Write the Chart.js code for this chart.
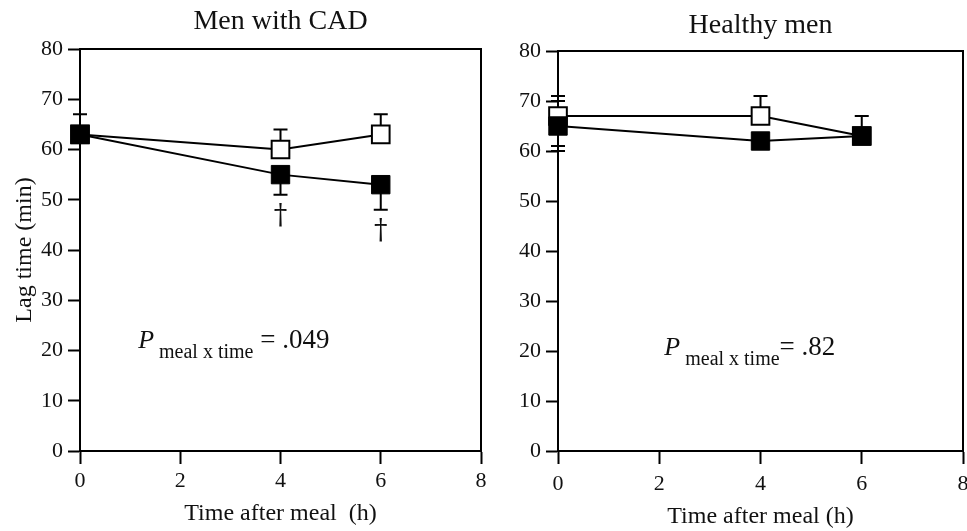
<!DOCTYPE html>
<html>
<head>
<meta charset="utf-8">
<script src="https://cdn.jsdelivr.net/npm/chart.js@4.4.1/dist/chart.umd.min.js"></script>
<style>
html, body { margin: 0; padding: 0; background: #fff; overflow: hidden; }
#wrap { position: relative; width: 967px; height: 531px; overflow: hidden; }
canvas { position: absolute; top: 0; }
#cad { left: 0; }
#healthy { left: 490px; }
</style>
</head>
<body>
<div id="wrap">
<canvas id="healthy" width="490" height="531"></canvas>
<canvas id="cad" width="500" height="531"></canvas>
</div>
<script>
// time points (h) and axis ticks
var timePoints = [0, 4, 6];
var xTicks = [0, 2, 4, 6, 8];
var yTicks = [0, 10, 20, 30, 40, 50, 60, 70, 80];

// Men with CAD - lag time (min)
var cadOpen = [63, 60, 63];
var cadOpenErrUp = [4, 4, 4];
var cadOpenErrDown = [0, 0, 0];
var cadFilled = [63, 55, 53];
var cadFilledErrUp = [0, 0, 0];
var cadFilledErrDown = [0, 4, 5];
var cadDaggers = [false, true, true];

// Healthy men - lag time (min)
var healthyOpen = [67, 67, 63];
var healthyOpenErrUp = [4, 4, 4];
var healthyOpenErrDown = [6, 0, 0];
var healthyFilled = [65, 62, 63];
var healthyFilledErrUp = [5, 0, 0];
var healthyFilledErrDown = [5, 0, 0];
var healthyDaggers = [false, false, false];

var panelTitles = ['Men with CAD', 'Healthy men'];
var xTitles = ['Time after meal  (h)', 'Time after meal (h)'];
var yTitle = 'Lag time (min)';
var pLabels = [' = .049', '= .82'];

var SERIF = '"Liberation Serif", "Times New Roman", serif';
Chart.defaults.font.family = SERIF;
Chart.defaults.color = '#111';

var toPoints = function(vals) {
	return timePoints.map(function(t, i) { return { x: t, y: vals[i] }; });
};

var extras = {
	id: 'extras',
	beforeDatasetsDraw: function(chart) {
		var ctx = chart.ctx, xs = chart.scales.x, ys = chart.scales.y;
		ctx.save();
		ctx.strokeStyle = '#000';
		ctx.lineWidth = 2;
		chart.data.datasets.forEach(function(ds) {
			ds.data.forEach(function(p, i) {
				var px = xs.getPixelForValue(p.x);
				var py = ys.getPixelForValue(p.y);
				[[ds.errUp[i], 1], [ds.errDown[i], -1]].forEach(function(e) {
					if (!e[0]) return;
					var pe = ys.getPixelForValue(p.y + e[1] * e[0]);
					ctx.beginPath();
					ctx.moveTo(px, py);
					ctx.lineTo(px, pe);
					ctx.moveTo(px - 7, pe);
					ctx.lineTo(px + 7, pe);
					ctx.stroke();
				});
			});
		});
		ctx.restore();
	},
	afterDraw: function(chart) {
		var ctx = chart.ctx, a = chart.chartArea, xs = chart.scales.x, ys = chart.scales.y;
		var opts = chart.options.plugins.extras;
		ctx.save();
		// box: top and right edges
		ctx.strokeStyle = '#000';
		ctx.lineWidth = 2;
		ctx.beginPath();
		ctx.moveTo(a.left - 1, a.top);
		ctx.lineTo(a.right, a.top);
		ctx.lineTo(a.right, a.bottom + 1);
		ctx.stroke();

		// panel title, centred on the plot area
		ctx.fillStyle = '#111';
		ctx.font = '28px ' + SERIF;
		ctx.textAlign = 'center';
		ctx.textBaseline = 'alphabetic';
		ctx.fillText(opts.title, (a.left + a.right) / 2, opts.titleBase);

		// daggers under the filled series
		var filled = chart.data.datasets[1];
		ctx.font = '27px "DejaVu Serif", serif';
		ctx.textBaseline = 'middle';
		opts.daggers.forEach(function(d, i) {
			if (!d) return;
			var p = filled.data[i];
			var py = ys.getPixelForValue(p.y - filled.errDown[i]);
			ctx.fillText('\u2020', xs.getPixelForValue(p.x), py + 22);
		});

		// P annotation
		var x = xs.getPixelForValue(opts.pAt[0]);
		var y = ys.getPixelForValue(opts.pAt[1]);
		ctx.textAlign = 'left';
		ctx.textBaseline = 'alphabetic';
		ctx.font = 'italic 26px ' + SERIF;
		ctx.fillText('P', x, y);
		x += ctx.measureText('P').width + 5;
		ctx.font = '20px ' + SERIF;
		ctx.fillText('meal x time', x, y + 10);
		x += ctx.measureText('meal x time').width;
		ctx.font = '27px ' + SERIF;
		ctx.fillText(opts.pText, x, y);
		ctx.restore();
	}
};

var makeChart = function(id, k, open, openUp, openDown, filled, filledUp, filledDown, daggers, cfg) {
	var config = {
		type: 'line',
		data: {
			datasets: [ {
				label: 'Open symbols',
				data: toPoints(open),
				errUp: openUp,
				errDown: openDown,
				borderColor: '#000',
				borderWidth: 2,
				pointStyle: 'rect',
				pointRadius: 12.5,
				pointBorderWidth: 2,
				pointBackgroundColor: '#fff',
				pointBorderColor: '#000',
				tension: 0,
				clip: false,
				order: 1
			}, {
				label: 'Filled symbols',
				data: toPoints(filled),
				errUp: filledUp,
				errDown: filledDown,
				borderColor: '#000',
				borderWidth: 2,
				pointStyle: 'rect',
				pointRadius: 13,
				pointBorderWidth: 1,
				pointBackgroundColor: '#000',
				pointBorderColor: '#000',
				tension: 0,
				clip: false,
				order: 0
			} ]
		},
		options: {
			responsive: false,
			animation: false,
			events: [],
			layout: { padding: { left: 0, right: cfg.padRight, top: cfg.padTop, bottom: 0 } },
			plugins: {
				legend: { display: false },
				tooltip: { enabled: false },
				title: { display: false },
				extras: { title: panelTitles[k], titleBase: cfg.titleBase, daggers: daggers, pAt: cfg.pAt, pText: pLabels[k] }
			},
			scales: {
				x: {
					type: 'linear',
					min: 0,
					max: 8,
					afterBuildTicks: function(s) { s.ticks = xTicks.map(function(v) { return { value: v }; }); },
					afterFit: function(s) { s.height = 80; },
					ticks: { autoSkip: false, maxRotation: 0, padding: cfg.xTickPad, color: '#111', font: { size: 22 } },
					grid: { drawOnChartArea: false, tickLength: 13, tickWidth: 2, tickColor: '#000' },
					border: { display: true, color: '#000', width: 2 },
					title: { display: true, text: xTitles[k], color: '#111', font: { size: 24 }, padding: { top: 0, bottom: cfg.xTitlePad } }
				},
				y: {
					type: 'linear',
					min: 0,
					max: 80,
					afterBuildTicks: function(s) { s.ticks = yTicks.map(function(v) { return { value: v }; }); },
					afterFit: function(s) { s.width = cfg.yWidth; },
					ticks: { padding: 5, color: '#111', font: { size: 22 } },
					grid: { drawOnChartArea: false, tickLength: 12, tickWidth: 2, tickColor: '#000' },
					border: { display: true, color: '#000', width: 2 },
					title: { display: cfg.showYTitle, text: yTitle, color: '#111', font: { size: 24 }, padding: { top: 10, bottom: 0 } }
				}
			}
		},
		plugins: [extras]
	};
	var ctx = document.getElementById(id).getContext('2d');
	return new Chart(ctx, config);
};

window.cadChart = makeChart('cad', 0, cadOpen, cadOpenErrUp, cadOpenErrDown,
	cadFilled, cadFilledErrUp, cadFilledErrDown, cadDaggers,
	{ padRight: 19, padTop: 49, titleBase: 29, yWidth: 80, xTickPad: 4, xTitlePad: 3, showYTitle: true, pAt: [1.16, 20.5] });

window.healthyChart = makeChart('healthy', 1, healthyOpen, healthyOpenErrUp, healthyOpenErrDown,
	healthyFilled, healthyFilledErrUp, healthyFilledErrDown, healthyDaggers,
	{ padRight: 17, padTop: 51, titleBase: 33, yWidth: 68, xTickPad: 7, xTitlePad: 0, showYTitle: false, pAt: [2.1, 19.3] });
</script>
</body>
</html>
